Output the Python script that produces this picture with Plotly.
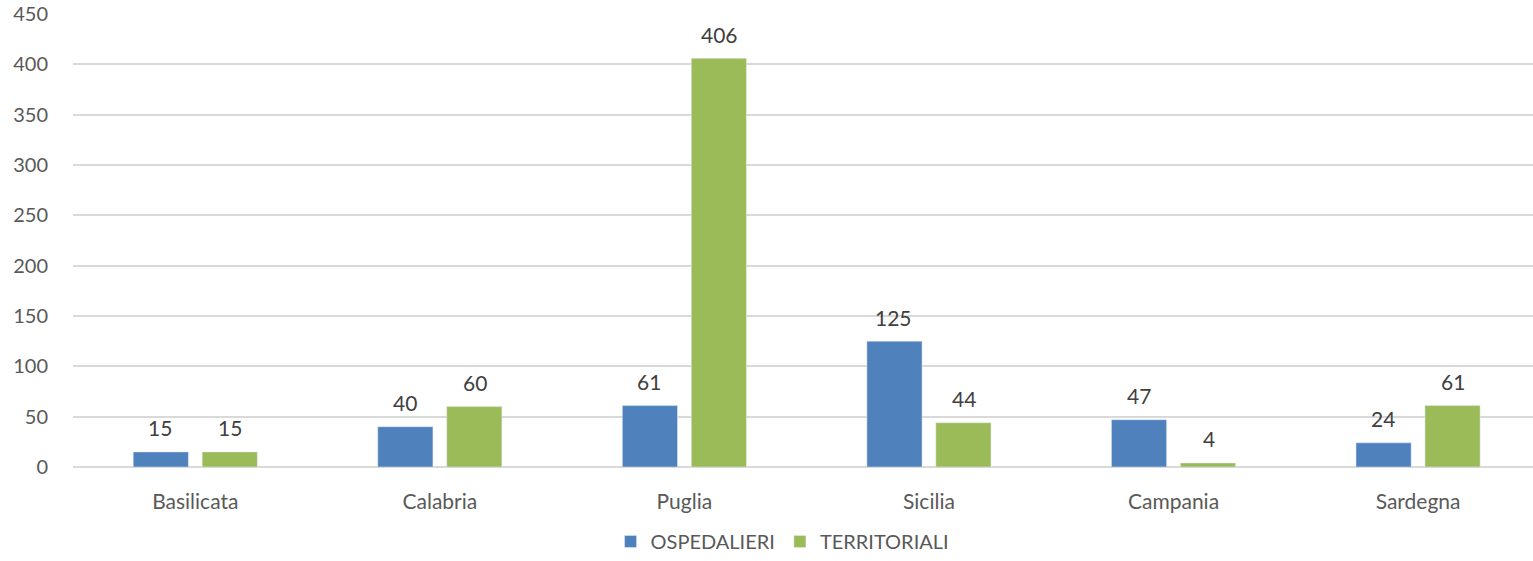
import plotly.graph_objects as go

categories = ["Basilicata", "Calabria", "Puglia", "Sicilia", "Campania", "Sardegna"]
ospedalieri = [15, 40, 61, 125, 47, 24]
territoriali = [15, 60, 406, 44, 4, 61]
y_ticks = [0, 50, 100, 150, 200, 250, 300, 350, 400, 450]

FONT = "Lato, Carlito, 'Open Sans', sans-serif"
LABEL_FONT = dict(size=21, color="#404040", family=FONT)

fig = go.Figure()
fig.add_trace(go.Bar(
    x=categories, y=ospedalieri, name="OSPEDALIERI",
    marker=dict(color="#4F81BD"),
))
fig.add_trace(go.Bar(
    x=categories, y=territoriali, name="TERRITORIALI",
    marker=dict(color="#9BBB59"),
))

# data labels above each bar
for series, shift in ((ospedalieri, -35), (territoriali, 35)):
    for cat, val in zip(categories, series):
        fig.add_annotation(x=cat, y=val, text=str(val), showarrow=False,
                           xshift=shift, yshift=24, yanchor="middle",
                           font=LABEL_FONT)

fig.update_layout(
    width=1533, height=561, autosize=False,
    margin=dict(l=73, r=0, t=14, b=94),
    paper_bgcolor="white", plot_bgcolor="white",
    barmode="group", bargap=0.436, bargroupgap=0.2,
    font=dict(family=FONT, color="#595959", size=20),
    showlegend=True,
    legend=dict(orientation="h", x=0.486, xanchor="center",
                yref="container", y=0.0, yanchor="bottom",
                font=dict(size=20, color="#595959"), itemwidth=30, traceorder="normal"),
    xaxis=dict(range=[-0.5, 5.47], showgrid=False, showline=False, ticks="",
               tickfont=dict(size=21, color="#595959"), ticklabelstandoff=20,
               automargin=False),
    yaxis=dict(range=[0, 450], tickvals=y_ticks, showgrid=True, gridcolor="#D9D9D9",
               gridwidth=1.5, zeroline=True, zerolinecolor="#D9D9D9", zerolinewidth=1.5,
               showline=False, ticks="", tickfont=dict(size=20, color="#595959"),
               ticklabelstandoff=24, automargin=False),
)

fig.write_html("out.html", config={"displayModeBar": False},
               post_script="document.body.style.margin='0';")
